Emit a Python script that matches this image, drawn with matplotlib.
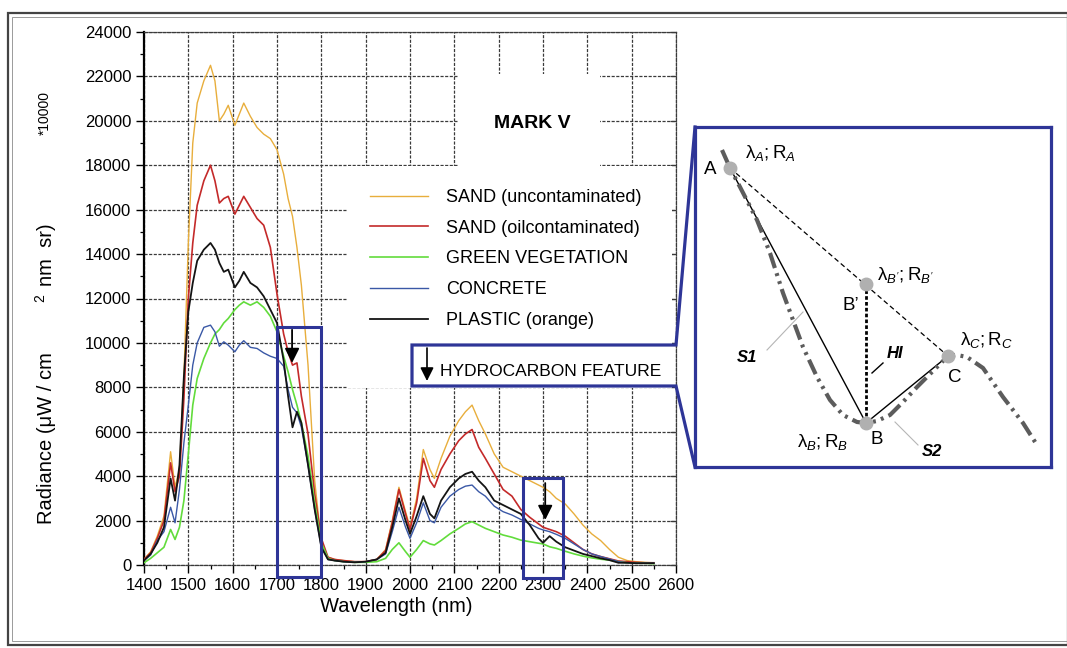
import matplotlib
matplotlib.use('Agg')
import matplotlib.pyplot as plt
from matplotlib.patches import Rectangle

plt.rcParams['font.family'] = ['Liberation Sans', 'DejaVu Sans']
plt.rcParams['mathtext.fontset'] = 'custom'
plt.rcParams['mathtext.rm'] = 'Liberation Sans'
plt.rcParams['mathtext.it'] = 'Liberation Sans:italic'
plt.rcParams['mathtext.bf'] = 'Liberation Sans:bold'

# ---------------- data ----------------
wavelength = [1400, 1415, 1430, 1445, 1460, 1470, 1480, 1490, 1500, 1510, 1520, 1535, 1550, 1560,
              1570, 1580, 1590, 1605, 1615, 1625, 1640, 1655, 1670, 1685, 1700, 1715, 1725, 1735,
              1745, 1755, 1770, 1785, 1800, 1815, 1830, 1850, 1875, 1900, 1925, 1945, 1960, 1975,
              1990, 2000, 2015, 2030, 2045, 2055, 2070, 2090, 2110, 2125, 2140, 2155, 2170, 2190,
              2210, 2230, 2250, 2270, 2290, 2300, 2315, 2330, 2350, 2370, 2390, 2410, 2430, 2450,
              2470, 2490, 2510, 2530, 2550]

sand_clean = [250, 600, 1300, 2200, 5100, 3500, 4300, 8500, 14500, 19000, 20800, 21800, 22500, 21800,
              20000, 20300, 20700, 19800, 20300, 20800, 20200, 19700, 19400, 19200, 18700, 17600, 16500, 15700,
              14300, 12600, 9000, 3800, 1000, 350, 250, 200, 150, 150, 250, 700, 2000, 3500,
              2400, 1700, 3000, 5200, 4300, 3900, 4800, 5800, 6500, 6900, 7200, 6500, 5900, 5000,
              4400, 4200, 4000, 3800, 3600, 3500, 3300, 3000, 2750, 2300, 1800, 1400, 1100, 700,
              350, 200, 150, 120, 100]

sand_oil = [250, 550, 1200, 2000, 4600, 3300, 4000, 7500, 12000, 14500, 16200, 17300, 18000, 17300,
            16300, 16500, 16600, 15800, 16200, 16600, 16100, 15600, 15300, 14300, 12200, 10400, 9600, 9000,
            9100, 7600, 5900, 3200, 1200, 350, 250, 200, 150, 150, 250, 650, 1900, 3400,
            2300, 1600, 2800, 4800, 3800, 3500, 4300, 5000, 5600, 5900, 6100, 5300, 4800, 4100,
            3400, 3100, 2500, 2150, 1850, 1700, 1600, 1500, 1300, 1000, 700, 500, 380, 280,
            180, 150, 120, 100, 100]

vegetation = [100, 300, 550, 800, 1600, 1150, 1700, 2900, 5000, 7200, 8400, 9300, 10000, 10400,
              10600, 10900, 11100, 11500, 11700, 11850, 11700, 11850, 11600, 11200, 10500, 9400, 8700, 7900,
              7200, 6400, 4900, 2800, 1000, 300, 200, 150, 120, 120, 150, 300, 700, 1000,
              600, 350, 700, 1100, 950, 900, 1100, 1400, 1650, 1850, 1950, 1800, 1650, 1500,
              1350, 1250, 1120, 1050, 980, 950, 820, 750, 620, 500, 400, 320, 260, 220,
              150, 100, 80, 80, 60]

concrete = [200, 450, 1100, 1500, 2600, 1900, 3400, 5500, 7200, 9000, 10000, 10700, 10800, 10500,
            9850, 10050, 9900, 9600, 9900, 10100, 9800, 9750, 9550, 9400, 9300, 8950, 7900, 7100,
            6850, 6200, 4500, 2500, 800, 250, 200, 150, 120, 150, 250, 500, 1500, 2600,
            1700, 1200, 1900, 2800, 2000, 1900, 2600, 3100, 3400, 3550, 3600, 3300, 3100, 2650,
            2400, 2250, 2050, 1850, 1650, 1580, 1500, 1380, 1200, 950, 700, 500, 380, 270,
            150, 100, 80, 80, 80]

plastic = [200, 500, 1000, 1700, 3900, 2900, 4500, 8500, 11400, 12700, 13700, 14200, 14500, 14200,
           13600, 13200, 13300, 12500, 12800, 13200, 12700, 12500, 12100, 11500, 10900, 9200, 7600, 6200,
           6900, 6400, 4500, 2500, 800, 250, 200, 150, 120, 150, 250, 550, 1700, 3000,
           2000, 1400, 2200, 3100, 2300, 2100, 2900, 3500, 3900, 4100, 4200, 3800, 3500, 2900,
           2700, 2500, 2300, 1800, 1200, 1000, 1300, 1050, 800, 650, 500, 400, 300, 220,
           100, 100, 80, 80, 80]

series_labels = ['SAND (uncontaminated)', 'SAND (oilcontaminated)', 'GREEN VEGETATION',
                 'CONCRETE', 'PLASTIC (orange)']
series_colors = ['#E8AE3C', '#C42A2A', '#62DC3C', '#3A58A6', '#141414']
series_widths = [1.0, 1.2, 1.2, 1.0, 1.3]

x_ticks = list(range(1400, 2601, 100))
y_ticks = list(range(0, 24001, 2000))

# hydrocarbon feature windows (nm) and arrows
feature_boxes = [(1700, 1800, -540, 10720), (2255, 2345, -585, 3920)]
feature_arrows = [(1734, 10590, 9100), (2305, 3690, 2030)]

# schematic inset (relative units)
curve_x = [27, 35, 45, 62, 75, 88, 98, 108, 122, 135, 148, 162, 171, 182, 195, 208, 222, 242, 253,
           262, 272, 288, 308, 328, 342]
curve_y = [23, 41, 60, 93, 126, 166, 193, 220, 250, 273, 288, 295, 296, 294, 288, 275, 260, 240, 229,
           228, 230, 241, 270, 296, 318]
pt_A = (35, 41)
pt_Bp = (171, 157)
pt_B = (171, 296)
pt_C = (253, 229)

BLUE = '#2E3597'
W, H = 1067, 648
fig = plt.figure(figsize=(W / 100, H / 100), dpi=100)


def fx(px):
    return px / W


def fy(py):
    return 1 - py / H


# ---------------- main axes ----------------
ax = fig.add_axes([fx(144), fy(565), (676 - 144) / W, (565 - 32) / H])
ax.set_xlim(1400, 2600)
ax.set_ylim(0, 24000)
ax.set_axisbelow(True)
gridstyle = dict(color='#3a3a3a', linestyle=(0, (2.5, 1.2)), linewidth=0.9)
ax.grid(True, which='major', **gridstyle)

lines = []
for vals, lab, col, lw in zip([sand_clean, sand_oil, vegetation, concrete, plastic],
                              series_labels, series_colors, series_widths):
    ln, = ax.plot(wavelength, vals, color=col, lw=lw, label=lab, zorder=3)
    lines.append(ln)

# white areas hiding the grid behind the title / legend
ax.add_patch(Rectangle((2110, 17950), 2428 - 2110, 22100 - 17950, facecolor='white',
                       edgecolor='none', zorder=1))
ax.add_patch(Rectangle((1860, 7950), 2592 - 1860, 17950 - 7950, facecolor='white',
                       edgecolor='none', zorder=1))

ax.set_xticks(x_ticks)
ax.set_xticks(list(range(1450, 2600, 100)), minor=True)
ax.set_yticks(y_ticks)
ax.set_yticks(list(range(1000, 24000, 2000)), minor=True)
ax.tick_params(axis='both', which='major', direction='out', length=6, width=1.0,
               labelsize=12, pad=3)
ax.tick_params(axis='both', which='minor', direction='out', length=3, width=0.9)

ax.spines['left'].set_linewidth(1.6)
ax.spines['left'].set_color('black')
for s in ['top', 'right', 'bottom']:
    ax.spines[s].set_color('#3a3a3a')
    ax.spines[s].set_linestyle((0, (2.5, 1.2)))
    ax.spines[s].set_linewidth(0.9)

# small inward ticks on the right edge
sec = ax.secondary_yaxis('right')
sec.set_yticks(y_ticks)
sec.set_yticklabels([])
sec.tick_params(direction='in', length=4, width=0.9, colors='#3a3a3a')
sec.spines['right'].set_visible(False)

ax.text(2277, 19900, 'MARK V', fontsize=14, fontweight='bold', ha='center', va='center')

ax.legend(handles=lines, loc='upper left',
          bbox_to_anchor=((370 - 144) / 532, (565 - 189) / 533),
          frameon=False, fontsize=13, handlelength=3.2, handletextpad=1.0,
          labelspacing=0.76, borderpad=0, borderaxespad=0)

for (x0, x1, y0, y1) in feature_boxes:
    ax.add_patch(Rectangle((x0, y0), x1 - x0, y1 - y0, fill=False, edgecolor=BLUE, lw=2.2,
                           clip_on=False, zorder=6))
for (xa, ytop, ytip) in feature_arrows:
    ax.annotate('', xy=(xa, ytip), xytext=(xa, ytop),
                arrowprops=dict(arrowstyle='-|>', color='black', lw=1.3, mutation_scale=22,
                                shrinkA=0, shrinkB=0), zorder=7, annotation_clip=False)

# axis labels
fig.text(fx(396), fy(607), 'Wavelength (nm)', fontsize=14.5, ha='center', va='center')

rot = dict(rotation=90, rotation_mode='anchor', ha='left', va='baseline')
fig.text(fx(52), fy(524), 'Radiance (μW / cm', fontsize=14.5, **rot)
fig.text(fx(44), fy(302), '2', fontsize=10, **rot)
fig.text(fx(52), fy(286), 'nm  sr)', fontsize=14.5, **rot)
fig.text(fx(49), fy(135), '*10000', fontsize=10, **rot)

# ---------------- inset schematic ----------------
ax2 = fig.add_axes([fx(695), fy(467), 356 / W, 340 / H])
ax2.set_xlim(0, 356)
ax2.set_ylim(340, 0)
ax2.set_xticks([])
ax2.set_yticks([])
for s in ax2.spines.values():
    s.set_color(BLUE)
    s.set_linewidth(2.3)

ax2.plot([pt_A[0], pt_C[0]], [pt_A[1], pt_C[1]], color='black', lw=0.9, ls=(0, (4, 2.5)), zorder=2)
ax2.plot([pt_A[0], pt_B[0], pt_C[0]], [pt_A[1], pt_B[1], pt_C[1]], color='black', lw=1.0, zorder=2)
ax2.plot([pt_Bp[0], pt_B[0]], [pt_Bp[1], pt_B[1]], color='black', lw=2.0, ls=(0, (1.3, 0.8)), zorder=2)
ax2.plot(curve_x, curve_y, color='#5c5c5c', lw=3.0, ls=(0, (3.8, 1.3, 0.7, 1.3, 0.7, 1.3)),
         dash_capstyle='butt', zorder=3)
ax2.plot([pt_A[0], pt_Bp[0], pt_B[0], pt_C[0]], [pt_A[1], pt_Bp[1], pt_B[1], pt_C[1]],
         ls='none', marker='o', ms=9, color='#b0b0b0', zorder=4)

# leader lines
ax2.plot([72, 108], [223, 185], color='#b5b5b5', lw=0.8)
ax2.plot([223, 200], [318, 295], color='#b5b5b5', lw=0.8)
ax2.plot([177, 188], [246, 236], color='black', lw=1.0)

fs = 13.5
ax2.text(15, 43, 'A', fontsize=fs, ha='center', va='center')
ax2.text(156, 178, 'B\u2019', fontsize=fs, ha='center', va='center')
ax2.text(182, 313, 'B', fontsize=fs, ha='center', va='center')
ax2.text(260, 250, 'C', fontsize=fs, ha='center', va='center')
ax2.text(50, 26, r'$\mathrm{\lambda}_{A};\mathrm{R}_{A}$', fontsize=fs, ha='left', va='center')
ax2.text(182, 148, r"$\mathrm{\lambda}_{B'};\mathrm{R}_{B'}$", fontsize=fs, ha='left', va='center')
ax2.text(265, 213, r'$\mathrm{\lambda}_{C};\mathrm{R}_{C}$', fontsize=fs, ha='left', va='center')
ax2.text(102, 315, r'$\mathrm{\lambda}_{B};\mathrm{R}_{B}$', fontsize=fs, ha='left', va='center')
ax2.text(52, 231, 'S1', fontsize=12, fontweight='bold', fontstyle='italic', ha='center', va='center')
ax2.text(237, 325, 'S2', fontsize=12, fontweight='bold', fontstyle='italic', ha='center', va='center')
ax2.text(200, 226, 'HI', fontsize=12, fontweight='bold', fontstyle='italic', ha='center', va='center')

# ---------------- overlay (frame, connectors, hydrocarbon key) ----------------
ov = fig.add_axes([0, 0, 1, 1], zorder=10)
ov.set_xlim(0, W)
ov.set_ylim(H, 0)
ov.axis('off')
ov.patch.set_alpha(0)

ov.add_patch(Rectangle((8, 13), 1060, 632, fill=False, edgecolor='#444444', lw=1.6))
ov.add_patch(Rectangle((12, 17), 1056, 624, fill=False, edgecolor='#9a9a9a', lw=0.7))

ov.plot([695, 676, 412, 412, 676, 695], [127, 345, 345, 386, 386, 467], color=BLUE, lw=2.3,
        solid_joinstyle='miter')
ov.annotate('', xy=(427, 381), xytext=(427, 348),
            arrowprops=dict(arrowstyle='-|>', color='black', lw=1.2, mutation_scale=20,
                            shrinkA=0, shrinkB=0))
ov.text(440, 371, 'HYDROCARBON FEATURE', fontsize=12.5, va='center', ha='left')

fig.savefig('out.png', dpi=100)
